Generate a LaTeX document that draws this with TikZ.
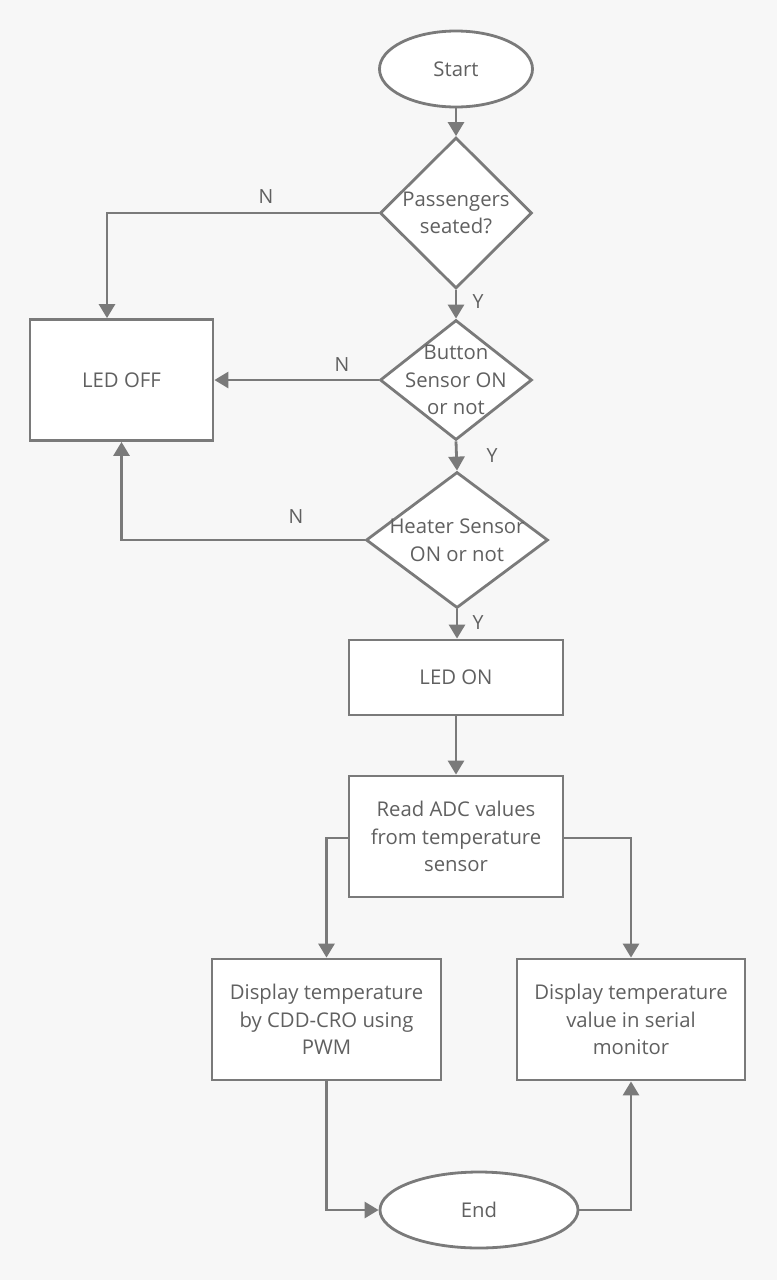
\documentclass[tikz,border=0pt]{standalone}
\usepackage{fontspec}
\setmainfont{Open Sans}
\usetikzlibrary{shapes.geometric,arrows.meta}
\definecolor{bg}{HTML}{F7F7F7}
\definecolor{ln}{HTML}{7A7A7A}
\definecolor{tx}{HTML}{606060}
\tikzset{
  base/.style={draw=ln, line width=2.8pt, fill=white, inner sep=0pt},
  procbox/.style={base, rectangle},
  termbox/.style={base, ellipse},
  dia/.style={base, diamond},
  txt/.style={text=tx, font=\fontsize{20.3}{27.5}\selectfont, align=center, inner sep=0pt},
  lbl/.style={text=tx, font=\fontsize{19.5}{22}\selectfont, inner sep=0pt},
  conn/.style={draw=ln, line width=2.8pt, -{Triangle[width=16pt,length=14pt]}},
  plain/.style={draw=ln, line width=2.8pt}
}
\begin{document}
\begin{tikzpicture}[x=1pt,y=-1pt]
\fill[bg] (0,0) rectangle (777,1280);
\useasboundingbox (0,0) rectangle (777,1280);

% nodes
\node[termbox, minimum width=153pt, minimum height=76pt] (start) at (456,69) {};
\node[txt] at (start) {Start};

\node[dia, minimum width=152pt, minimum height=151pt] (d1) at (456,213) {};
\node[txt] at (d1) {Passengers\\seated?};

\node[dia, minimum width=152pt, minimum height=120pt] (d2) at (456,380) {};
\node[txt] at (d2) {Button\\Sensor ON\\or not};

\node[dia, minimum width=182pt, minimum height=136pt] (d3) at (457,540) {};
\node[txt] at (d3) {Heater Sensor\\ON or not};

\node[procbox, minimum width=183pt, minimum height=121pt] (off) at (121.5,380) {};
\node[txt] at (off) {LED OFF};

\node[procbox, minimum width=214pt, minimum height=75pt] (on) at (456,677.5) {};
\node[txt] at (on) {LED ON};

\node[procbox, minimum width=214pt, minimum height=121pt] (adc) at (456,836.5) {};
\node[txt] at (adc) {Read ADC values\\from temperature\\sensor};

\node[procbox, minimum width=229pt, minimum height=121pt] (cro) at (326.5,1019.5) {};
\node[txt] at (cro) {Display temperature\\by CDD-CRO using\\PWM};

\node[procbox, minimum width=228pt, minimum height=121pt] (ser) at (631,1019.5) {};
\node[txt] at (ser) {Display temperature\\value in serial\\monitor};

\node[termbox, minimum width=198pt, minimum height=76pt] (end) at (479,1210) {};
\node[txt] at (end) {End};

% connectors
\draw[conn] (start.south) -- (d1.north);
\draw[conn] (d1.west) -- (107,213) -- (107,319 |- off.north);
\draw[conn] (d1.south) -- (d2.north);
\draw[conn] (d2.west) -- (off.east);
\draw[conn] (d2.south) -- (d3.north);
\draw[conn] (d3.west) -- (121.5,540) -- (off.south);
\draw[conn] (d3.south) -- (d3.south |- on.north);
\draw[conn] (on.south) -- (adc.north);
\draw[conn] (adc.west |- 0,838) -- (326.5,838) -- (cro.north);
\draw[conn] (adc.east |- 0,838) -- (631,838) -- (ser.north);
\draw[conn] (cro.south) -- (326.5,1210) -- (end.west);
\draw[conn] (end.east) -- (631,1210) -- (ser.south);

% labels
\node[lbl] at (266,197) {N};
\node[lbl] at (478,302) {Y};
\node[lbl] at (342,365) {N};
\node[lbl] at (492,456) {Y};
\node[lbl] at (296,517) {N};
\node[lbl] at (478,623) {Y};
\end{tikzpicture}
\end{document}
